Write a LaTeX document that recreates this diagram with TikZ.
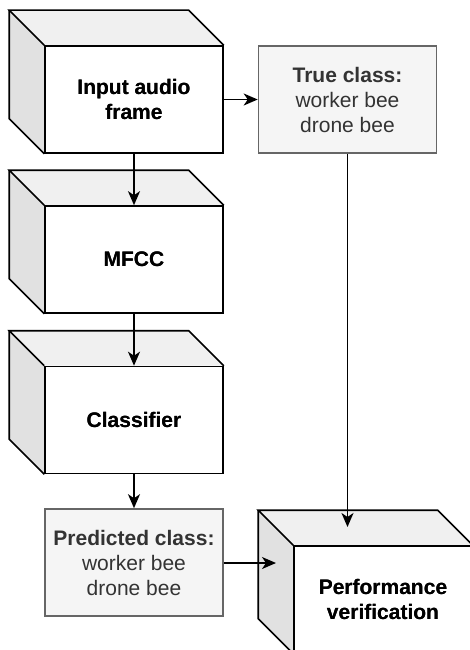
\documentclass[tikz,border=0pt]{standalone}
\usepackage{fontspec}
\setmainfont{Liberation Sans}
\usetikzlibrary{arrows.meta,calc}
\definecolor{cubetop}{HTML}{F0F0F0}
\definecolor{cubeside}{HTML}{E1E1E1}
\definecolor{greyfill}{HTML}{F5F5F5}
\definecolor{greyline}{HTML}{666666}
\definecolor{greytext}{HTML}{333333}
\tikzset{
  cubefront/.style={draw=black, line width=1.6pt, fill=white, minimum width=178pt, minimum height=107pt,
    inner sep=0pt, align=center, font=\fontsize{21}{25.5}\selectfont\bfseries},
  cubeface/.style={draw=black, line width=1.6pt, line join=miter},
  classbox/.style={draw=greyline, line width=1.6pt, fill=greyfill, text=greytext, minimum width=178pt,
    minimum height=107pt, inner sep=0pt, align=center, font=\fontsize{21}{25}\selectfont},
  flow/.style={draw=black, line width=1.6pt, -{Stealth[length=14pt,width=12pt,inset=4pt]}},
}
\newcommand{\cubesides}[1]{%
  \fill[cubetop] (#1.north west) -- ($(#1.north west)+(-35,-35)$) -- ($(#1.north east)+(-35,-35)$) -- (#1.north east) -- cycle;
  \fill[cubeside] (#1.north west) -- ($(#1.north west)+(-35,-35)$) -- ($(#1.south west)+(-35,-35)$) -- (#1.south west) -- cycle;
  \draw[cubeface] (#1.north west) -- ($(#1.north west)+(-35,-35)$) -- ($(#1.north east)+(-35,-35)$) -- (#1.north east);
  \draw[cubeface] ($(#1.north west)+(-35,-35)$) -- ($(#1.south west)+(-35,-35)$) -- (#1.south west);
}
\begin{document}
\begin{tikzpicture}[x=1pt,y=-1pt]
\useasboundingbox (0,0) rectangle (470,650);
\clip (0,0) rectangle (470,650);
\fill[white] (0,0) rectangle (470,650);

% cubes
\node[cubefront] (input) at (134,99.5) {Input audio\\frame};
\cubesides{input}
\node[cubefront] (mfcc) at (134,259.5) {MFCC};
\cubesides{mfcc}
\node[cubefront] (clf) at (134,420) {Classifier};
\cubesides{clf}
\node[cubefront] (perf) at (383,599.5) {Performance\\verification};
\cubesides{perf}
\node[cubefront, fill=none] at (input) {Input audio\\frame};
\node[cubefront, fill=none] at (mfcc) {MFCC};
\node[cubefront, fill=none] at (clf) {Classifier};
\node[cubefront, fill=none] at (perf) {Performance\\verification};

% class boxes
\node[classbox] (true) at (347.5,99.5) {\textbf{True class:}\\worker bee\\drone bee};
\node[classbox] (pred) at (134,562.5) {\textbf{Predicted class:}\\worker bee\\drone bee};

% arrow targets inside the perf cube faces
\coordinate (perftop) at (348,527);
\coordinate (perfside) at (276,563);

% connectors
\draw[flow] (input.south) -- (mfcc.north);
\draw[flow] (mfcc.south) -- (clf.north);
\draw[flow] (clf.south) -- (pred.north);
\draw[flow] (input.east) -- (true.west);
\draw[flow] (true.south) -- (true.south |- perftop);
\draw[flow] (pred.east |- perfside) -- (perfside);
\end{tikzpicture}
\end{document}
